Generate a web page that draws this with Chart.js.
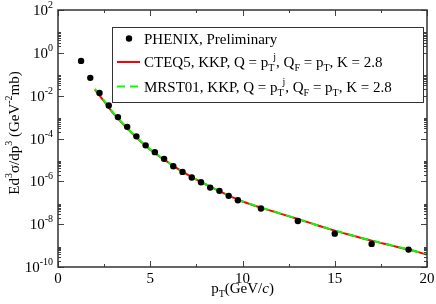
<!DOCTYPE html>
<html>
<head>
<meta charset="utf-8">
<script src="https://cdn.jsdelivr.net/npm/chart.js@4.4.0/dist/chart.umd.min.js"></script>
<style>
  body { margin: 0; background: #fff; }
  #wrap { width: 436px; height: 304px; }
</style>
</head>
<body>
<div id="wrap"><canvas id="grafico" width="436" height="304"></canvas></div>
<script>
// PHENIX points (pT in GeV/c, Ed3sigma/dp3 in mb GeV^-2)
const ptPhenix = [1.25, 1.75, 2.25, 2.75, 3.25, 3.75, 4.25, 4.75, 5.25, 5.75, 6.25, 6.75,
  7.25, 7.75, 8.25, 8.75, 9.25, 9.75, 11, 13, 15, 17, 19];
const yPhenix = [4.2e-1, 6.8e-2, 1.35e-2, 3.5e-3, 1.0e-3, 3.5e-4, 1.26e-4, 4.8e-5, 2.3e-5,
  1.12e-5, 5.1e-6, 2.75e-6, 1.5e-6, 9.1e-7, 5.1e-7, 3.6e-7, 2.1e-7, 1.3e-7, 5.4e-8,
  1.4e-8, 3.6e-9, 1.2e-9, 6.5e-10];

// NLO curves
const ptTeoria = [2.0, 2.5, 3.0, 3.5, 4.0, 4.5, 5.0, 5.5, 6.0, 6.5, 7.0, 7.5, 8.0, 8.5, 9.0,
  9.5, 10, 11, 12, 13, 14, 15, 16, 17, 18, 19, 20];
const yCteq5 = [1.9e-2, 5.4e-3, 1.5e-3, 5.0e-4, 1.8e-4, 7.1e-5, 3.0e-5, 1.45e-5, 7.4e-6,
  3.8e-6, 2.1e-6, 1.2e-6, 7.2e-7, 4.4e-7, 2.75e-7, 1.74e-7, 1.15e-7, 5.9e-8, 3.2e-8,
  1.74e-8, 9.1e-9, 5.0e-9, 2.9e-9, 1.7e-9, 1.05e-9, 6.5e-10, 3.8e-10];
const yMrst01 = [2.05e-2, 5.8e-3, 1.58e-3, 5.2e-4, 1.86e-4, 7.3e-5, 3.08e-5, 1.48e-5, 7.5e-6,
  3.85e-6, 2.12e-6, 1.21e-6, 7.3e-7, 4.45e-7, 2.78e-7, 1.76e-7, 1.16e-7, 5.95e-8, 3.22e-8,
  1.75e-8, 9.2e-9, 5.05e-9, 2.92e-9, 1.71e-9, 1.06e-9, 6.55e-10, 3.82e-10];

// eixos
const xTicks = [0, 5, 10, 15, 20];
const xMinorTicks = [2.5, 7.5, 12.5, 17.5];
const yExpoentes = [2, 0, -2, -4, -6, -8, -10];

const SERIF = '"Liberation Serif", "DejaVu Serif", serif';

function fonte(mode) {
  const size = (mode === 'sup' || mode === 'sub') ? 10 : 15;
  const italic = mode === 'i' ? 'italic ' : '';
  return italic + size + 'px ' + SERIF;
}

function larguraRich(ctx, parts) {
  let w = 0;
  parts.forEach(p => { ctx.font = fonte(p[1]); if (!p[2]) w += ctx.measureText(p[0]).width; });
  return w;
}

// desenha texto com sobrescrito / subscrito
function drawRich(ctx, parts, x, y, align) {
  let cx = x;
  if (align === 'center') cx = x - larguraRich(ctx, parts) / 2;
  if (align === 'right') cx = x - larguraRich(ctx, parts);
  parts.forEach(p => {
    ctx.font = fonte(p[1]);
    let dy = 0;
    if (p[1] === 'sup') dy = -7;
    if (p[1] === 'sub') dy = 4;
    ctx.fillText(p[0], cx, y + dy);
    if (!p[2]) cx += ctx.measureText(p[0]).width; // p[2]: nao avanca (sub + sup empilhados)
  });
}

const molduraPlugin = {
  id: 'moldura',
  afterDraw(chart) {
    const ctx = chart.ctx;
    const a = chart.chartArea;
    const sx = chart.scales.x, sy = chart.scales.y;
    ctx.save();
    ctx.fillStyle = '#000';
    ctx.strokeStyle = '#444';
    ctx.lineWidth = 1;
    ctx.textBaseline = 'alphabetic';

    // ticks x (para dentro, em baixo e em cima)
    ctx.beginPath();
    xTicks.forEach(v => {
      const px = Math.round(sx.getPixelForValue(v)) + 0.5;
      ctx.moveTo(px, a.bottom); ctx.lineTo(px, a.bottom - 6);
      ctx.moveTo(px, a.top); ctx.lineTo(px, a.top + 6);
    });
    xMinorTicks.forEach(v => {
      const px = Math.round(sx.getPixelForValue(v)) + 0.5;
      ctx.moveTo(px, a.bottom); ctx.lineTo(px, a.bottom - 3);
      ctx.moveTo(px, a.top); ctx.lineTo(px, a.top + 3);
    });
    // ticks y
    yExpoentes.forEach(e => {
      const py = Math.round(sy.getPixelForValue(Math.pow(10, e))) + 0.5;
      ctx.moveTo(a.left, py); ctx.lineTo(a.left + 6, py);
      ctx.moveTo(a.right, py); ctx.lineTo(a.right - 6, py);
      for (let k = 2; k <= 9; k++) {
        const v = k * Math.pow(10, e);
        if (v > 100) continue;
        const pm = Math.round(sy.getPixelForValue(v)) + 0.5;
        ctx.moveTo(a.left, pm); ctx.lineTo(a.left + 3, pm);
        ctx.moveTo(a.right, pm); ctx.lineTo(a.right - 3, pm);
      }
    });
    ctx.stroke();

    // moldura
    ctx.lineWidth = 1.5;
    ctx.strokeStyle = '#333';
    ctx.strokeRect(a.left, a.top, a.right - a.left, a.bottom - a.top);

    // rotulos
    xTicks.forEach(v => {
      drawRich(ctx, [[String(v), 'n']], sx.getPixelForValue(v), a.bottom + 16, 'center');
    });
    yExpoentes.forEach(e => {
      const py = sy.getPixelForValue(Math.pow(10, e));
      drawRich(ctx, [['10', 'n'], [String(e), 'sup']], a.left - 5, py + 5, 'right');
    });

    // titulo eixo x
    drawRich(ctx, [['p', 'n'], ['T', 'sub'], ['(GeV/', 'n'], ['c', 'i'], [')', 'n']],
      (a.left + a.right) / 2, a.bottom + 26, 'center');

    // titulo eixo y (girado)
    ctx.save();
    ctx.translate(19, 133);
    ctx.rotate(-Math.PI / 2);
    drawRich(ctx, [['Ed', 'n'], ['3', 'sup'], ['\u03c3/dp', 'n'], ['3', 'sup'], [' (GeV', 'n'],
      ['-2', 'sup'], ['mb)', 'n']], 0, 0, 'center');
    ctx.restore();

    // legenda
    const lx = 112, ly = 27, lw = 311, lh = 75;
    ctx.fillStyle = '#fff';
    ctx.fillRect(lx, ly, lw, lh);
    ctx.lineWidth = 1;
    ctx.strokeStyle = '#333';
    ctx.strokeRect(lx + 0.5, ly + 0.5, lw, lh);
    ctx.fillStyle = '#000';
    ctx.beginPath();
    ctx.arc(129, 38.5, 3.2, 0, Math.PI * 2);
    ctx.fill();
    ctx.lineWidth = 2;
    ctx.strokeStyle = '#ff0000';
    ctx.beginPath(); ctx.moveTo(117, 62); ctx.lineTo(140, 62); ctx.stroke();
    ctx.strokeStyle = '#00ff00';
    ctx.setLineDash([8, 5]);
    ctx.beginPath(); ctx.moveTo(117, 86.5); ctx.lineTo(140, 86.5); ctx.stroke();
    ctx.setLineDash([]);
    const tx = 144;
    drawRich(ctx, [['PHENIX, Preliminary', 'n']], tx, 43.5, 'left');
    drawRich(ctx, [['CTEQ5, KKP, Q = p', 'n'], ['T', 'sub', 1], ['  j', 'sup'], [', Q', 'n'], ['F', 'sub'],
      [' = p', 'n'], ['T', 'sub'], [', K = 2.8', 'n']], tx, 67, 'left');
    drawRich(ctx, [['MRST01, KKP, Q = p', 'n'], ['T', 'sub', 1], ['  j', 'sup'], [', Q', 'n'], ['F', 'sub'],
      [' = p', 'n'], ['T', 'sub'], [', K = 2.8', 'n']], tx, 91.5, 'left');
    ctx.restore();
  }
};

const pares = (xs, ys) => xs.map((x, i) => ({ x: x, y: ys[i] }));

new Chart(document.getElementById('grafico').getContext('2d'), {
  type: 'line',
  data: {
    datasets: [
      {
        label: 'PHENIX, Preliminary',
        data: pares(ptPhenix, yPhenix),
        showLine: false,
        pointRadius: 3.2,
        pointBackgroundColor: '#000',
        pointBorderWidth: 0,
        order: 0
      },
      {
        label: 'MRST01',
        data: pares(ptTeoria, yMrst01),
        borderColor: '#00ff00',
        borderWidth: 2,
        borderDash: [8, 5],
        pointRadius: 0,
        tension: 0.4,
        cubicInterpolationMode: 'monotone',
        order: 1
      },
      {
        label: 'CTEQ5',
        data: pares(ptTeoria, yCteq5),
        borderColor: '#ff0000',
        borderWidth: 2,
        pointRadius: 0,
        tension: 0.4,
        cubicInterpolationMode: 'monotone',
        order: 2
      }
    ]
  },
  options: {
    responsive: false,
    animation: false,
    devicePixelRatio: 1,
    layout: { padding: { left: 58, top: 10, right: 9, bottom: 37 } },
    plugins: { legend: { display: false }, tooltip: { enabled: false } },
    scales: {
      x: { type: 'linear', min: 0, max: 20, display: false },
      y: { type: 'logarithmic', min: 1e-10, max: 1e2, display: false }
    }
  },
  plugins: [molduraPlugin]
});
</script>
</body>
</html>
